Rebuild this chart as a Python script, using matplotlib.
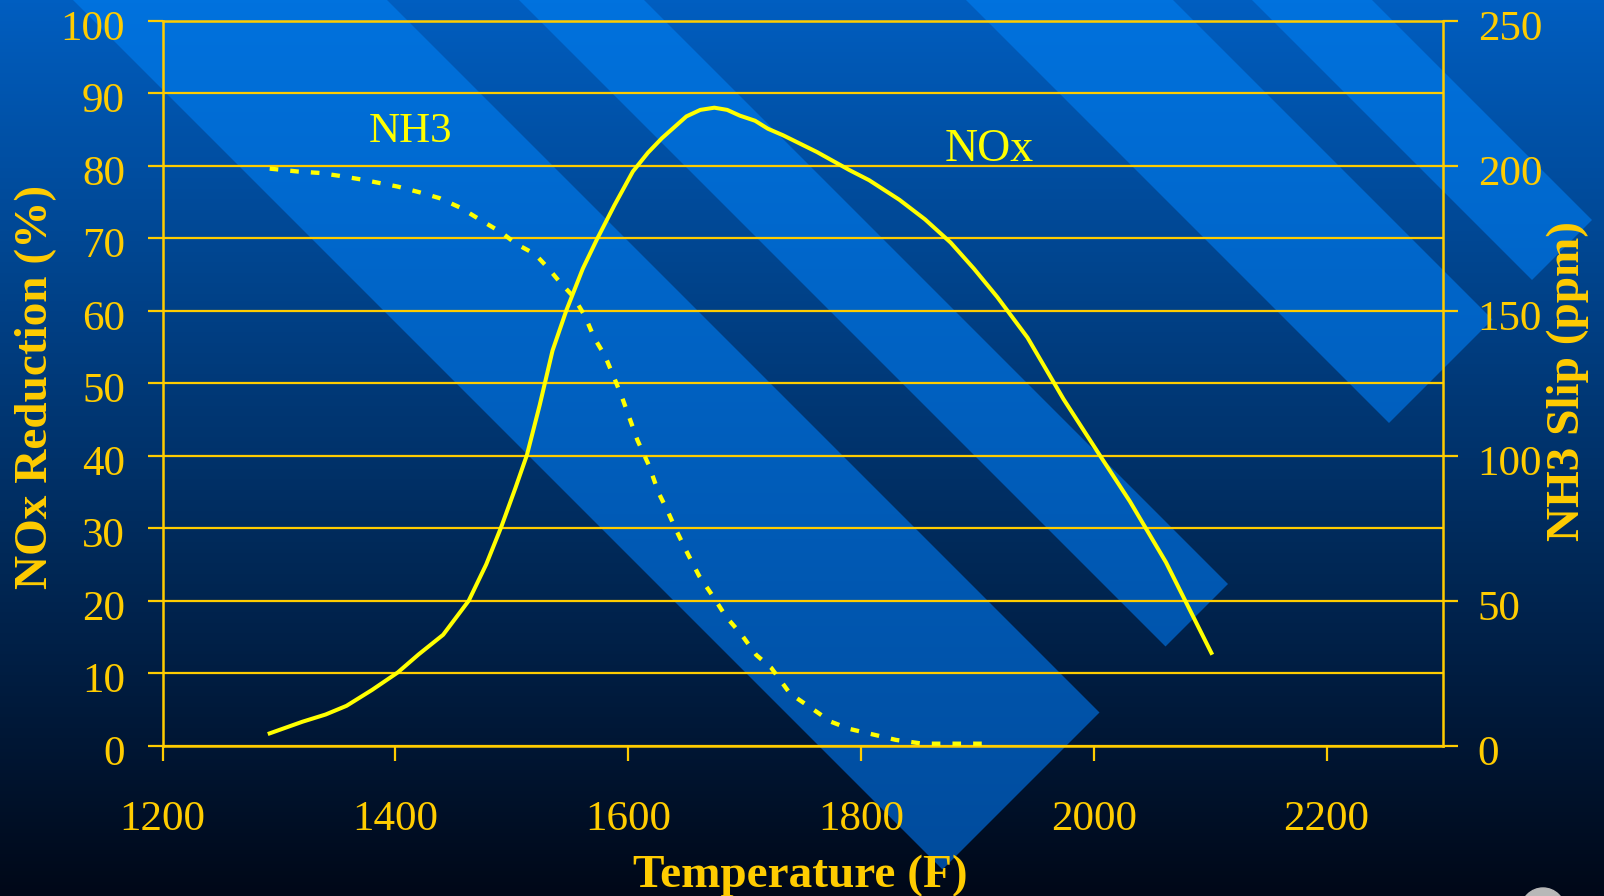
import numpy as np
import matplotlib.pyplot as plt
from matplotlib.path import Path
from matplotlib.patches import PathPatch, Ellipse
import matplotlib.transforms as mtransforms

plt.rcParams['font.family'] = ['Liberation Serif', 'DejaVu Serif']

# NOx reduction (%) vs temperature (F)
temp_nox = [1292, 1320, 1340, 1358, 1380, 1402, 1420, 1441, 1463, 1478, 1491,
            1503, 1513, 1524, 1535, 1547, 1561, 1573, 1588, 1604, 1617, 1629,
            1650, 1662, 1674, 1685, 1696, 1709, 1720, 1733, 1762, 1790, 1807,
            1833, 1855, 1877, 1897, 1917, 1943, 1974, 2005, 2031, 2062, 2101]
nox_reduction = [1.7, 3.3, 4.3, 5.5, 7.7, 10.1, 12.6, 15.3, 20.0, 25.0, 30.2,
                 35.5, 40.1, 47.0, 54.5, 60.1, 65.8, 69.8, 74.5, 79.2, 81.8, 83.8,
                 86.8, 87.7, 88.0, 87.7, 86.9, 86.2, 85.1, 84.2, 81.9, 79.4, 78.0,
                 75.3, 72.6, 69.4, 65.8, 61.9, 56.3, 47.8, 40.1, 33.7, 25.3, 12.8]

# NH3 slip (ppm) vs temperature (F)
temp_nh3 = [1292, 1316, 1335, 1352, 1370, 1383, 1402, 1421, 1438, 1456, 1473,
            1491, 1504, 1520, 1531, 1541, 1553, 1563, 1571, 1580, 1588, 1595,
            1602, 1608, 1618, 1626, 1634, 1641, 1651, 1661, 1674, 1684, 1697,
            1710, 1723, 1739, 1759, 1774, 1790, 1809, 1830, 1853, 1870, 1890, 1910]
nh3_slip = [199, 198, 197.5, 196.5, 195.3, 194.3, 192.8, 190.8, 188.8, 185.5, 181.3,
            177, 173, 169.5, 164.8, 160, 154.8, 148, 140.5, 134.5, 126.8, 119.8,
            112, 105.3, 96.5, 87.3, 80.8, 74.5, 66.3, 58.5, 50.8, 44.5, 38.5,
            31.3, 26.8, 18, 12.5, 8.3, 5.8, 4, 2, 0.7, 0.7, 0.7, 0.7]

x_ticks = [1200, 1400, 1600, 1800, 2000, 2200]
left_ticks = list(range(0, 101, 10))
right_ticks = list(range(0, 251, 50))

gold = '#FFCC00'
yellow = '#FFFF00'

W, H = 1604, 896
fig = plt.figure(figsize=(W / 100, H / 100), dpi=100)

# background: vertical gradient + diagonal stripes
bg = fig.add_axes([0, 0, 1, 1], zorder=-10)
bg.set_xlim(0, W)
bg.set_ylim(H, 0)
bg.axis('off')
t = np.linspace(0, 1, 256)[:, None, None]
def vgrad(c0, c1):
    c0 = np.array(c0) / 255
    c1 = np.array(c1) / 255
    return c0 * (1 - t) + c1 * t
bg.imshow(vgrad((0x00, 0x5E, 0xC0), (0x00, 0x08, 0x18)), extent=[0, W, H, 0], aspect='auto')

stripes = [(73, 387), (519, 644), (966, 1173), (1252, 1372)]  # x - y bands (px)
end = 1812  # x + y where stripes stop
verts, codes = [], []
for a, b in stripes:
    far = -800
    pts = [((a + far) / 2, (far - a) / 2), ((b + far) / 2, (far - b) / 2),
           ((b + end) / 2, (end - b) / 2), ((a + end) / 2, (end - a) / 2),
           ((a + far) / 2, (far - a) / 2)]
    verts += pts
    codes += [Path.MOVETO, Path.LINETO, Path.LINETO, Path.LINETO, Path.CLOSEPOLY]
clip = PathPatch(Path(verts, codes), transform=bg.transData, facecolor='none', edgecolor='none')
bg.add_patch(clip)
im = bg.imshow(vgrad((0x00, 0x72, 0xDE), (0x00, 0x4A, 0x9A)), extent=[0, W, H, 0], aspect='auto')
im.set_clip_path(clip)
bg.add_patch(Ellipse((1543, 910), 44, 44, color='#B8B8B8', zorder=3))
bg.set_xlim(0, W)
bg.set_ylim(H, 0)

# main axes
ax = fig.add_axes([162.6 / W, 1 - 745.7 / H, (1443 - 162.6) / W, 725 / H])
ax.patch.set_alpha(0)
ax.set_xlim(1200, 2300)
ax.set_ylim(0, 100)
ax2 = ax.twinx()
ax2.set_ylim(0, 250)

ax.plot(temp_nox, nox_reduction, color=yellow, lw=2.9, solid_joinstyle='round', zorder=5)
ax2.plot(temp_nh3, nh3_slip, color=yellow, lw=3.1, ls=(0, (2, 2.8)), zorder=5)

ax.set_xticks(x_ticks)
ax.set_yticks(left_ticks)
ax2.set_yticks(right_ticks)
ax.grid(axis='y', color=gold, lw=1.6)
ax.grid(axis='x', visible=False)

for a in (ax, ax2):
    for s in a.spines.values():
        s.set_visible(False)
ax.spines['left'].set_visible(True)
ax.spines['bottom'].set_visible(True)
ax.spines['top'].set_visible(True)
ax2.spines['right'].set_visible(True)
for s in list(ax.spines.values()) + [ax2.spines['right']]:
    s.set_color(gold)
    s.set_linewidth(1.8)

ax.tick_params(axis='y', direction='out', length=10.5, width=1.6, color=gold,
               labelcolor=gold, labelsize=31, pad=16.5)
ax.tick_params(axis='x', direction='out', length=10.5, width=1.6, color=gold,
               labelcolor=gold, labelsize=31, pad=29)
ax2.tick_params(axis='y', direction='out', length=10.5, width=1.6, color=gold,
                labelcolor=gold, labelsize=31, pad=14.5)

off = mtransforms.ScaledTranslation(0, -4.5 / 100, fig.dpi_scale_trans)
for lab in ax.get_yticklabels() + ax2.get_yticklabels():
    lab.set_transform(lab.get_transform() + off)

ax.text(1413, 83.3, 'NH3', color=yellow, fontsize=31, ha='center', va='baseline', zorder=6)
ax.text(1910, 80.65, 'NOx', color=yellow, fontsize=33, ha='center', va='baseline', zorder=6)

fig.text(800 / W, 1 - 887 / H, 'Temperature (F)', color=gold, fontsize=34,
         fontweight='bold', ha='center', va='baseline')
fig.text(36 / W, 1 - 387 / H, 'NOx Reduction (%)', color=gold, fontsize=34,
         fontweight='bold', rotation=90, ha='center', va='center')
fig.text(1568 / W, 1 - 381 / H, 'NH3 Slip (ppm)', color=gold, fontsize=34,
         fontweight='bold', rotation=90, ha='center', va='center')

fig.savefig('out.png', dpi=100)
